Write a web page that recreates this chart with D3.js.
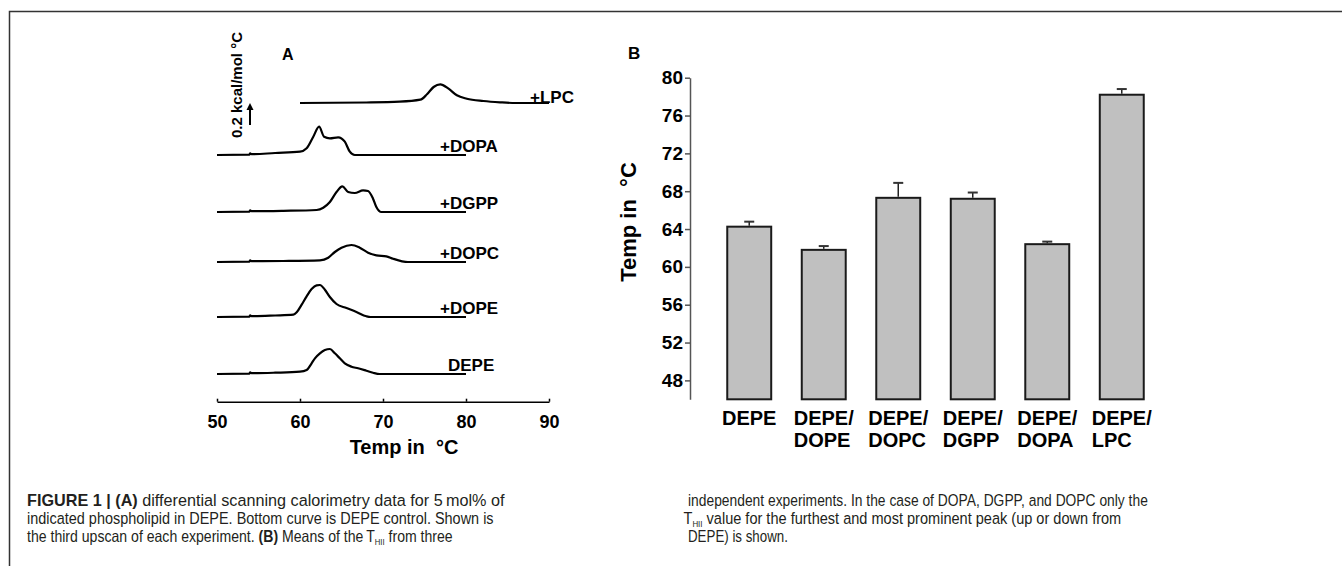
<!DOCTYPE html>
<html>
<head>
<meta charset="utf-8">
<script src="https://cdn.jsdelivr.net/npm/d3@7"></script>
<style>
body { margin: 0; background: #fff; }
svg text { font-family: Arial, "Liberation Sans", Helvetica, sans-serif; }
</style>
</head>
<body>
<div id="chart"></div>
<script>
// ---- panel A : DSC upscans, excess Cp (kcal/mol/°C) above each trace's baseline
const curveNames = ["DEPE", "+DOPE", "+DOPC", "+DGPP", "+DOPA", "+LPC"];
const curveOffsets = [0, 0.57, 1.12, 1.62, 2.19, 2.71];

const cpDEPE = [[50,0],[53.9,0.003],[54,0.017],[54.15,0.008],[57,0.013],[60,0.023],[60.8,0.04],[61.4,0.107],[61.8,0.157],[62.4,0.207],[63,0.24],[63.6,0.25],[64.2,0.207],[64.8,0.157],[65.4,0.107],[66.2,0.073],[67,0.057],[68,0.033],[68.8,0.013],[69.6,0],[80,0]];
const cpDOPE = [[50,0],[53.9,0.003],[54,0.017],[54.15,0.008],[57,0.015],[59.2,0.023],[59.6,0.047],[60.2,0.123],[60.8,0.207],[61.4,0.28],[62,0.317],[62.4,0.32],[63,0.273],[63.6,0.2],[64.4,0.13],[65.6,0.09],[66.8,0.05],[68,0.007],[68.5,0],[80,0]];
const cpDOPC = [[50,0],[53.9,0.003],[54,0.017],[54.15,0.008],[58,0.01],[62.4,0.017],[63.4,0.043],[64.2,0.1],[65,0.143],[66.2,0.17],[67.2,0.143],[68.2,0.093],[69.2,0.067],[70.4,0.057],[71.2,0.033],[72.3,0.007],[73,0],[80,0]];
const cpDGPP = [[50,0],[53.9,0.003],[54,0.017],[54.15,0.008],[58,0.012],[62,0.02],[62.8,0.043],[63.6,0.1],[64.4,0.2],[65.1,0.257],[65.8,0.2],[66.6,0.19],[67.6,0.217],[68.2,0.21],[68.8,0.133],[69.2,0.05],[69.8,0],[80,0]];
const cpDOPA = [[50,0],[53.9,0.003],[54,0.017],[54.15,0.008],[57,0.02],[60,0.033],[60.8,0.067],[61.6,0.183],[62.3,0.283],[62.9,0.183],[63.6,0.167],[64.6,0.177],[65.4,0.133],[66,0.033],[66.6,0],[80,0]];
const cpLPC = [[60,0],[68,0.005],[72,0.013],[74.5,0.033],[75.3,0.087],[76.1,0.16],[76.9,0.187],[77.9,0.143],[78.9,0.077],[80.1,0.043],[82.1,0.02],[84.1,0.007],[86,0],[90,0]];
const curves = [cpDEPE, cpDOPE, cpDOPC, cpDGPP, cpDOPA, cpLPC];
const scaleBarValue = 0.2;
const ticksA = [50, 60, 70, 80, 90];

// ---- panel B : mean T_HII
const barCats = ["DEPE", "DEPE/DOPE", "DEPE/DOPC", "DEPE/DGPP", "DEPE/DOPA", "DEPE/LPC"];
const barMeans = [64.25, 61.8, 67.3, 67.2, 62.4, 78.2];
const barErrs = [0.53, 0.4, 1.58, 0.66, 0.27, 0.6];
const ticksB = [48, 52, 56, 60, 64, 68, 72, 76, 80];

// ---- caption
const captionLeft = [
  [{t: "FIGURE 1 | (A)", b: true}, {t: " differential scanning calorimetry data for 5\u2009mol% of"}],
  [{t: "indicated phospholipid in DEPE. Bottom curve is DEPE control. Shown is"}],
  [{t: "the third upscan of each experiment. "}, {t: "(B)", b: true}, {t: " Means of the\u2009T"}, {t: "HII", sub: true}, {t: " from three"}]
];
const captionRight = [
  [{t: "independent experiments. In the case of DOPA, DGPP, and DOPC only the"}],
  [{t: "T"}, {t: "HII", sub: true}, {t: " value for the furthest and most prominent peak (up or down from"}],
  [{t: "DEPE) is shown."}]
];

const width = 1342, height = 579;

const svg = d3.select("#chart")
  .append("svg")
  .attr("width", width)
  .attr("height", height);

// figure frame (top + left rule)
svg.append("path")
  .attr("d", "M9.5,566 V11.5 H1342")
  .attr("fill", "none")
  .attr("stroke", "#333")
  .attr("stroke-width", 1.5);

// ================= panel A =================
const xA = d3.scaleLinear().domain([50, 90]).range([217, 549]);
const yA = d3.scaleLinear().domain([0, 1]).range([374, 274]);

const line = d3.line()
  .x(d => xA(d[0]))
  .curve(d3.curveMonotoneX);

const gA = svg.append("g");

curves.forEach((c, i) => {
  gA.append("path")
    .datum(c)
    .attr("d", line.y(d => yA(d[1] + curveOffsets[i])))
    .attr("fill", "none")
    .attr("stroke", "#000")
    .attr("stroke-width", 2.2);

  const endT = c[c.length - 1][0];
  const isLPC = curveNames[i] === "+LPC";
  const isDEPE = curveNames[i] === "DEPE";
  gA.append("text")
    .attr("x", xA(endT) - (isLPC ? 19 : isDEPE ? 18 : 26))
    .attr("y", yA(curveOffsets[i]) - (isLPC ? 0 : 3))
    .attr("font-size", 17)
    .attr("font-weight", "bold")
    .text(curveNames[i]);
});

// x axis
const axA = d3.axisBottom(xA)
  .tickValues(ticksA)
  .tickSizeInner(-3)
  .tickSizeOuter(0)
  .tickPadding(14);

const gAx = gA.append("g")
  .attr("transform", "translate(0,401.7)")
  .call(axA);
gAx.select(".domain").attr("stroke", "#000").attr("stroke-width", 1.5);
gAx.selectAll(".tick line").attr("stroke", "#000").attr("stroke-width", 1.5);
gAx.selectAll(".tick text")
  .attr("fill", "#000")
  .attr("font-size", 18)
  .attr("font-weight", "bold")
  .attr("font-family", "Arial, 'Liberation Sans', sans-serif");

gA.append("text")
  .attr("x", 404)
  .attr("y", 454)
  .attr("text-anchor", "middle")
  .attr("font-size", 20)
  .attr("font-weight", "bold")
  .style("white-space", "pre")
  .text("Temp in  \u00b0C");

// scale bar arrow
const barTop = yA(curveOffsets[5]);
const barBot = yA(curveOffsets[5] - scaleBarValue);
gA.append("line")
  .attr("x1", 250).attr("x2", 250)
  .attr("y1", barBot + 2).attr("y2", barTop + 5)
  .attr("stroke", "#000").attr("stroke-width", 2);
gA.append("path")
  .attr("d", `M250,${barTop} L246.5,${barTop + 7} L253.5,${barTop + 7} Z`)
  .attr("fill", "#000");

gA.append("text")
  .attr("transform", `translate(242,${barTop - 18}) rotate(-90)`)
  .attr("text-anchor", "middle")
  .attr("font-size", 15)
  .attr("font-weight", "bold")
  .text("0.2 kcal/mol \u00b0C");

svg.append("text")
  .attr("x", 282).attr("y", 59.5)
  .attr("font-size", 16).attr("font-weight", "bold")
  .text("A");

// ================= panel B =================
const yB = d3.scaleLinear().domain([46, 80]).range([399.3, 77.7]);
const xB = d3.scaleBand()
  .domain(barCats)
  .range([690, 1181])
  .paddingInner(0.41)
  .paddingOuter(0.5);

const gB = svg.append("g");

gB.selectAll("rect.bar")
  .data(barCats)
  .enter().append("rect")
  .attr("class", "bar")
  .attr("x", d => xB(d))
  .attr("y", (d, i) => yB(barMeans[i]))
  .attr("width", xB.bandwidth())
  .attr("height", (d, i) => yB(46) - yB(barMeans[i]))
  .attr("fill", "#c0c0c0")
  .attr("stroke", "#1a1a1a")
  .attr("stroke-width", 2);

// error bars (upper only)
const eb = gB.selectAll("g.err")
  .data(barCats)
  .enter().append("g")
  .attr("class", "err");
eb.append("line")
  .attr("x1", d => xB(d) + xB.bandwidth() / 2)
  .attr("x2", d => xB(d) + xB.bandwidth() / 2)
  .attr("y1", (d, i) => yB(barMeans[i]) - 1)
  .attr("y2", (d, i) => yB(barMeans[i] + barErrs[i]))
  .attr("stroke", "#222").attr("stroke-width", 1.5);
eb.append("line")
  .attr("x1", d => xB(d) + xB.bandwidth() / 2 - 5)
  .attr("x2", d => xB(d) + xB.bandwidth() / 2 + 5)
  .attr("y1", (d, i) => yB(barMeans[i] + barErrs[i]))
  .attr("y2", (d, i) => yB(barMeans[i] + barErrs[i]))
  .attr("stroke", "#333").attr("stroke-width", 2);

// y axis
const axB = d3.axisLeft(yB)
  .tickValues(ticksB)
  .tickSize(5)
  .tickSizeOuter(0)
  .tickPadding(2);
const gBy = gB.append("g")
  .attr("transform", "translate(690,0)")
  .call(axB);
gBy.select(".domain").attr("stroke", "#555").attr("stroke-width", 1.5);
gBy.selectAll(".tick line").attr("stroke", "#555").attr("stroke-width", 1.5);
gBy.selectAll(".tick text")
  .attr("fill", "#000")
  .attr("font-size", 19)
  .attr("font-weight", "bold")
  .attr("font-family", "Arial, 'Liberation Sans', sans-serif");

gB.append("text")
  .attr("transform", "translate(636,222) rotate(-90)")
  .attr("text-anchor", "middle")
  .attr("font-size", 22)
  .attr("font-weight", "bold")
  .style("white-space", "pre")
  .text("Temp in  \u00b0C");

// category labels, two-line ones left aligned as a block
barCats.forEach(c => {
  const cx = xB(c) + xB.bandwidth() / 2;
  const parts = c.split("/");
  if (parts.length === 1) {
    gB.append("text")
      .attr("x", cx).attr("y", 424.5)
      .attr("text-anchor", "middle")
      .attr("font-size", 20).attr("font-weight", "bold")
      .text(c);
  } else {
    const t1 = gB.append("text")
      .attr("y", 424.5)
      .attr("font-size", 20).attr("font-weight", "bold")
      .text(parts[0] + "/");
    const w = t1.node().getComputedTextLength();
    t1.attr("x", cx - w / 2);
    gB.append("text")
      .attr("x", cx - w / 2).attr("y", 446.5)
      .attr("font-size", 20).attr("font-weight", "bold")
      .text(parts[1]);
  }
});

svg.append("text")
  .attr("x", 628).attr("y", 58.5)
  .attr("font-size", 17).attr("font-weight", "bold")
  .text("B");

// ================= caption =================
// condensed look: draw in Liberation Sans and squeeze each line horizontally to the measured width
function captionBlock(lines, xs, ys, lens) {
  lines.forEach((segs, i) => {
    const t = svg.append("text")
      .attr("font-family", "'Liberation Sans', Arial, sans-serif")
      .attr("font-size", 16.5)
      .attr("fill", "#231f20")
      .style("white-space", "pre");
    let shifted = false;
    segs.forEach(s => {
      const ts = t.append("tspan").text(s.t);
      if (s.b) ts.attr("font-weight", "bold");
      if (s.sub) { ts.attr("font-size", 9).attr("dy", 2.5); shifted = true; }
      else if (shifted) { ts.attr("dy", -2.5); shifted = false; }
    });
    const w = t.node().getComputedTextLength();
    t.attr("transform", `translate(${xs[i]},${ys[i]}) scale(${lens[i] / w},1)`);
  });
}
captionBlock(captionLeft, [27, 27, 27], [506, 524.3, 542.3], [478, 467, 426]);
captionBlock(captionRight, [688, 683.5, 688], [506, 524.3, 542.3], [460, 438, 100]);
</script>
</body>
</html>
